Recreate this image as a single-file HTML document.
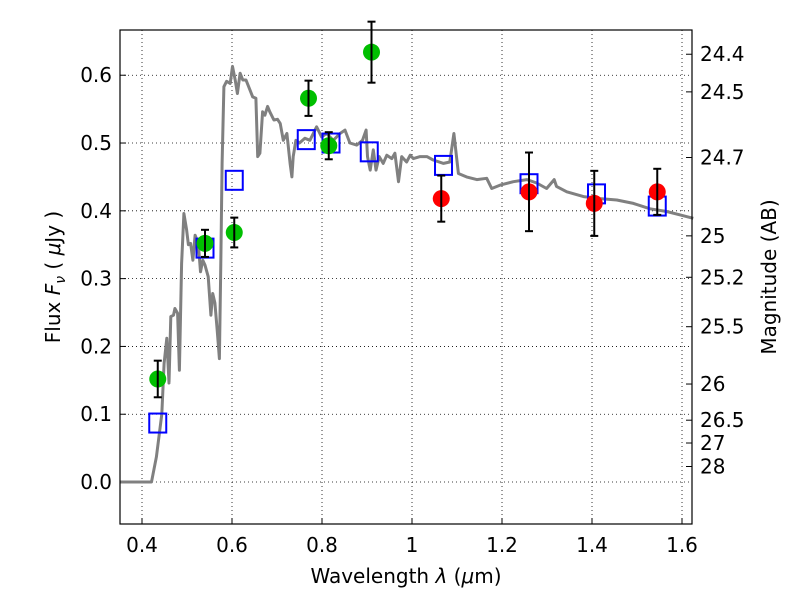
<!DOCTYPE html>
<html><head><meta charset="utf-8"><style>
body{margin:0;background:#fff}
svg{display:block;font-family:"DejaVu Sans","Liberation Sans",sans-serif}
</style></head><body>
<svg id="c" width="800" height="600"></svg>
<script>
const specLam=[0.351,0.421,0.432,0.444,0.449,0.455,0.460,0.464,0.470,0.473,0.479,0.483,0.488,0.493,0.499,0.503,0.508,0.513,0.518,0.525,0.530,0.535,0.540,0.547,0.553,0.557,0.562,0.567,0.572,0.575,0.578,0.582,0.588,0.596,0.601,0.607,0.612,0.618,0.624,0.631,0.640,0.646,0.653,0.657,0.662,0.668,0.673,0.679,0.684,0.693,0.701,0.707,0.714,0.722,0.729,0.733,0.736,0.742,0.750,0.762,0.773,0.788,0.799,0.810,0.825,0.840,0.851,0.862,0.877,0.890,0.898,0.901,0.907,0.914,0.920,0.927,0.936,0.944,0.955,0.962,0.970,0.977,0.988,0.996,1.003,1.018,1.033,1.047,1.070,1.084,1.093,1.103,1.121,1.144,1.166,1.177,1.196,1.225,1.255,1.277,1.299,1.316,1.321,1.344,1.381,1.418,1.455,1.492,1.529,1.566,1.596,1.625];
const specFlux=[0,0,0.037,0.1,0.175,0.212,0.146,0.244,0.246,0.256,0.249,0.165,0.322,0.396,0.372,0.350,0.352,0.327,0.364,0.352,0.310,0.327,0.320,0.303,0.246,0.278,0.264,0.224,0.182,0.322,0.470,0.583,0.591,0.588,0.613,0.593,0.573,0.603,0.593,0.593,0.578,0.568,0.566,0.480,0.485,0.546,0.541,0.554,0.546,0.534,0.535,0.529,0.504,0.514,0.470,0.450,0.480,0.504,0.500,0.507,0.504,0.524,0.509,0.514,0.504,0.514,0.519,0.500,0.497,0.504,0.519,0.480,0.460,0.490,0.460,0.480,0.470,0.482,0.477,0.485,0.443,0.480,0.472,0.482,0.477,0.480,0.480,0.475,0.470,0.472,0.514,0.455,0.450,0.446,0.448,0.433,0.438,0.443,0.446,0.441,0.433,0.446,0.436,0.428,0.421,0.418,0.416,0.411,0.403,0.399,0.394,0.389];
const greenLam=[0.435,0.54,0.605,0.77,0.815,0.91];
const greenFlux=[0.152,0.352,0.368,0.566,0.496,0.634];
const greenErr=[0.027,0.02,0.022,0.026,0.02,0.045];
const redLam=[1.065,1.26,1.405,1.545];
const redFlux=[0.418,0.428,0.411,0.428];
const redErr=[0.034,0.058,0.048,0.034];
const modelLam=[0.435,0.54,0.605,0.765,0.82,0.905,1.07,1.26,1.41,1.545];
const modelFlux=[0.087,0.345,0.445,0.505,0.5,0.487,0.467,0.44,0.425,0.407];
const xTicks=[0.4,0.6,0.8,1.0,1.2,1.4,1.6];
const xTickLabels=["0.4","0.6","0.8","1","1.2","1.4","1.6"];
const yTicks=[0,0.1,0.2,0.3,0.4,0.5,0.6];
const yTickLabels=["0.0","0.1","0.2","0.3","0.4","0.5","0.6"];
const magTicks=[24.4,24.5,24.7,25,25.2,25.5,26,26.5,27,28];
const magTickLabels=["24.4","24.5","24.7","25","25.2","25.5","26","26.5","27","28"];

const L=120,R=692,T=30,B=524;
const x0=0.3511,x1=1.6222,y0=-0.0619,y1=0.6667;
const X=v=>L+(v-x0)/(x1-x0)*(R-L);
const Y=v=>B-(v-y0)/(y1-y0)*(B-T);
const svg=document.getElementById('c');
const NS='http://www.w3.org/2000/svg';
function mk(t,a,p){const e=document.createElementNS(NS,t);for(const k in a)e.setAttribute(k,a[k]);(p||svg).appendChild(e);return e;}

xTicks.forEach((v,i)=>{
  const g=mk('line',{x1:X(v),x2:X(v),y1:T,y2:B,stroke:'#000','stroke-width':0.8,'stroke-dasharray':'1,3'});
  
  
  const tk=mk('line',{x1:X(v),x2:X(v),y1:B,y2:B-6,stroke:'#000'});
  
  
  const t=mk('text',{x:X(v),y:B+28,'font-size':20,'text-anchor':'middle'});t.textContent=xTickLabels[i];
  
  
});
yTicks.forEach((v,i)=>{
  const g=mk('line',{x1:L,x2:R,y1:Y(v),y2:Y(v),stroke:'#000','stroke-width':0.8,'stroke-dasharray':'1,3'});
  
  
  const tk=mk('line',{x1:L,x2:L+6,y1:Y(v),y2:Y(v),stroke:'#000'});
  
  
  const t=mk('text',{x:L-8,y:Y(v)+7,'font-size':20,'text-anchor':'end'});t.textContent=yTickLabels[i];
  
  
});
magTicks.forEach((m,i)=>{
  const f=Math.pow(10,(23.9-m)/2.5);
  const tk=mk('line',{x1:R,x2:R-6,y1:Y(f),y2:Y(f),stroke:'#000'});
  
  
  const t=mk('text',{x:R+8,y:Y(f)+7,'font-size':20});t.textContent=magTickLabels[i];
  
  
});

let d='';specLam.forEach((l,i)=>{d+=(i?'L':'M')+X(l).toFixed(1)+','+Y(specFlux[i]).toFixed(1);});
const sp=mk('path',{d:d,fill:'none',stroke:'#808080','stroke-width':3,'stroke-linejoin':'round'});



modelLam.forEach((l,i)=>{
  const r=mk('rect',{x:X(l)-8.5,y:Y(modelFlux[i])-9.5,width:17,height:19,fill:'none',stroke:'#0000ff','stroke-width':2});
  
  
});
function pts(lams,fl,er,col,name){
  lams.forEach((l,i)=>{
    const g=mk('g',{});
    
    
    mk('circle',{cx:X(l),cy:Y(fl[i]),r:8.5,fill:col},g);
    const a=Y(fl[i]+er[i]),b=Y(fl[i]-er[i]),x=X(l);
    mk('line',{x1:x,x2:x,y1:a,y2:b,stroke:'#000','stroke-width':2},g);
    mk('line',{x1:x-4,x2:x+4,y1:a,y2:a,stroke:'#000','stroke-width':2},g);
    mk('line',{x1:x-4,x2:x+4,y1:b,y2:b,stroke:'#000','stroke-width':2},g);
  });
}
pts(greenLam,greenFlux,greenErr,'#00bf00','hst-data-point');
pts(redLam,redFlux,redErr,'#ff0000','ir-data-point');
</script>
<svg width="800" height="600" style="position:absolute;left:0;top:0">
<rect x="120" y="30" width="572" height="494" fill="none" stroke="#000" stroke-width="1.2"/>
<text x="406" y="583" font-size="20" text-anchor="middle">Wavelength  <tspan font-style="italic">λ</tspan> (<tspan font-style="italic">μ</tspan>m)</text>
<text transform="translate(60,277) rotate(-90)" font-size="20" text-anchor="middle">Flux  <tspan font-style="italic">F</tspan><tspan font-style="italic" font-size="14" dy="5">ν</tspan><tspan dy="-5">  ( </tspan><tspan font-style="italic">μ</tspan>Jy )</text>
<text transform="translate(776,277) rotate(-90)" font-size="20" text-anchor="middle">Magnitude (AB)</text>
</svg>
</body></html>
